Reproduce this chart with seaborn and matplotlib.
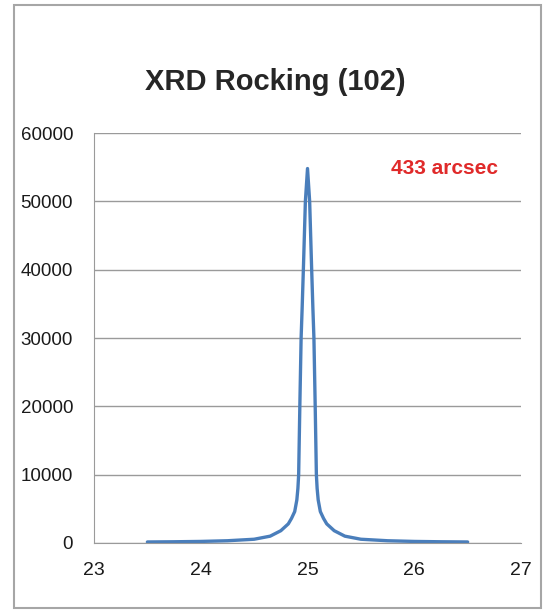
import matplotlib
matplotlib.use('Agg')
import matplotlib.pyplot as plt
import matplotlib.patches as patches
from matplotlib import font_manager
import pandas as pd
import seaborn as sns

# Rocking curve values
omega = [23.5, 23.75, 24.0, 24.25, 24.5, 24.65, 24.75, 24.82, 24.85, 24.88,
         24.9, 24.91, 24.917, 24.928, 24.94, 24.95, 24.963, 24.98, 25.0,
         25.02, 25.037, 25.05, 25.06, 25.072, 25.083, 25.09, 25.1,
         25.12, 25.15, 25.18, 25.25, 25.35, 25.5, 25.75, 26.0, 26.25, 26.5]
counts = [150, 180, 230, 330, 550, 1000, 1800, 2800, 3600, 4600,
          6300, 8000, 10000, 20000, 30000, 34500, 41000, 50000, 54800,
          50000, 41000, 34500, 30000, 20000, 10000, 8000, 6300,
          4600, 3600, 2800, 1800, 1000, 550, 330, 230, 180, 150]
x_ticks = [23, 24, 25, 26, 27]
y_ticks = [0, 10000, 20000, 30000, 40000, 50000, 60000]
title = 'XRD Rocking (102)'
note = '433 arcsec'

df = pd.DataFrame({'omega': omega, 'counts': counts})

sns.set_style('white')
names = {f.name for f in font_manager.fontManager.ttflist}
narrow = 'Liberation Sans Narrow' if 'Liberation Sans Narrow' in names else 'Liberation Sans'
plt.rcParams['font.family'] = ['Liberation Sans', 'DejaVu Sans']

fig = plt.figure(figsize=(5.45, 6.11), dpi=100)
ax = fig.add_axes([0.1725, 0.1113, 0.7835, 0.671])

# gray chart-area frame
fig.patches.append(patches.Rectangle((14 / 545, 3 / 611), 527 / 545, 603 / 611,
                                     transform=fig.transFigure, fill=False,
                                     edgecolor='#a6a6a6', linewidth=1.5))

sns.lineplot(data=df, x='omega', y='counts', ax=ax, color='#4a7ebb', linewidth=2.4)

ax.set_xlim(23, 27)
ax.set_ylim(0, 60000)
ax.set_xticks(x_ticks)
ax.set_yticks(y_ticks)
ax.set_xticklabels([str(t) for t in x_ticks], fontsize=14)
ax.set_yticklabels([str(t) for t in y_ticks], fontsize=13.5)
ax.set_xlabel('')
ax.set_ylabel('')
ax.yaxis.grid(True, color='#9a9a9a', linewidth=1)
ax.set_axisbelow(True)
for s in ['top', 'right']:
    ax.spines[s].set_visible(False)
ax.spines['left'].set_color('#9a9a9a')
ax.spines['bottom'].set_color('#9a9a9a')
ax.tick_params(axis='both', which='both', length=6, color='#9a9a9a', direction='out',
               labelcolor='#1a1a1a')
ax.tick_params(axis='y', pad=9)
ax.tick_params(axis='x', pad=8)

fig.text(0.505, 0.866, title, ha='center', va='center', fontsize=21, fontweight='bold')
ax.text(25.78, 54800, note, color='#e02a2a', fontsize=15, fontweight='bold',
        family=[narrow, 'DejaVu Sans'], ha='left', va='center')

fig.savefig('out.png', dpi=100)
